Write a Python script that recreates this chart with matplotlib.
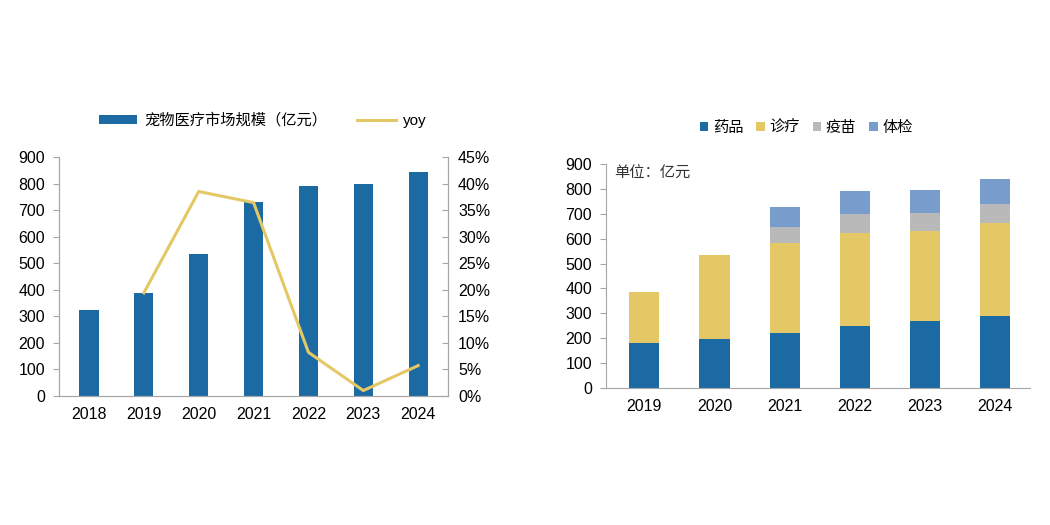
import matplotlib.pyplot as plt
from matplotlib.ticker import FuncFormatter

plt.rcParams['font.family'] = ['Liberation Sans', 'Noto Sans CJK SC', 'DejaVu Sans']

# Left chart data
years_l = ['2018', '2019', '2020', '2021', '2022', '2023', '2024']
market = [325, 388, 535, 730, 790, 798, 844]
yoy_years = ['2019', '2020', '2021', '2022', '2023', '2024']
yoy = [19.4, 38.5, 36.4, 8.2, 1.0, 5.7]

# Right chart data
years_r = ['2019', '2020', '2021', '2022', '2023', '2024']
drugs = [179, 195, 219, 250, 270, 288]
diagnosis = [208, 340, 363, 372, 360, 377]
vaccine = [0, 0, 66, 77, 73, 74]
checkup = [0, 0, 81, 92, 95, 103]

blue = '#1c6aa4'
yellow = '#e3c865'
gray = '#b9b9b9'
lightblue = '#789ccb'
spine_c = '#a6a6a6'
fs = 11.5
lfs = 11

fig = plt.figure(figsize=(10.5, 5.25), dpi=100)

# ---- left chart ----
ax1 = fig.add_axes([0.056, 0.246, 0.371, 0.455])
x_l = list(range(len(years_l)))
bars = ax1.bar(x_l, market, width=0.35, color=blue, label='宠物医疗市场规模（亿元）')
ax1.set_ylim(0, 900)
ax1.set_yticks(range(0, 901, 100))
ax1.set_xlim(-0.55, 6.55)
ax1.set_xticks(x_l)
ax1.set_xticklabels(years_l)

ax2 = ax1.twinx()
x_yoy = [years_l.index(y) for y in yoy_years]
line, = ax2.plot(x_yoy, yoy, color=yellow, lw=2.2, label='yoy')
ax2.set_ylim(0, 45)
ax2.set_yticks(range(0, 46, 5))
ax2.yaxis.set_major_formatter(FuncFormatter(lambda v, p: f'{v:.0f}%'))

for ax in (ax1, ax2):
    ax.spines['top'].set_visible(False)
    for s in ('left', 'right', 'bottom'):
        ax.spines[s].set_color(spine_c)
    ax.tick_params(axis='x', length=0, labelsize=fs, pad=8)
ax1.tick_params(axis='y', colors=spine_c, labelcolor='black', labelsize=fs,
                length=4, direction='out', pad=6)
ax2.tick_params(axis='y', colors=spine_c, labelcolor='black', labelsize=fs,
                length=4, direction='in', pad=7)

fig.legend([bars, line], ['宠物医疗市场规模（亿元）', 'yoy'], loc='center',
           bbox_to_anchor=(0.25, 0.771), ncol=2, frameon=False, fontsize=lfs,
           handlelength=2.5, handleheight=0.5, columnspacing=2.0, handletextpad=0.45)

# ---- right chart ----
ax3 = fig.add_axes([0.577, 0.2615, 0.404, 0.4255])
x_r = list(range(len(years_r)))
w = 0.43
b1 = ax3.bar(x_r, drugs, width=w, color=blue, label='药品')
bottom = drugs[:]
b2 = ax3.bar(x_r, diagnosis, width=w, bottom=bottom, color=yellow, label='诊疗')
bottom = [a + b for a, b in zip(bottom, diagnosis)]
b3 = ax3.bar(x_r, vaccine, width=w, bottom=bottom, color=gray, label='疫苗')
bottom = [a + b for a, b in zip(bottom, vaccine)]
b4 = ax3.bar(x_r, checkup, width=w, bottom=bottom, color=lightblue, label='体检')

ax3.set_ylim(0, 900)
ax3.set_yticks(range(0, 901, 100))
ax3.set_xlim(-0.55, 5.5)
ax3.set_xticks(x_r)
ax3.set_xticklabels(years_r)
ax3.spines['top'].set_visible(False)
ax3.spines['right'].set_visible(False)
ax3.spines['left'].set_color(spine_c)
ax3.spines['bottom'].set_color(spine_c)
ax3.tick_params(axis='y', colors=spine_c, labelcolor='black', labelsize=fs,
                length=4, direction='out', pad=6)
ax3.tick_params(axis='x', length=0, labelsize=fs, pad=8)
ax3.text(0.02, 0.99, '单位：亿元', transform=ax3.transAxes, ha='left', va='top',
         fontsize=lfs, color='#333333')

fig.legend([b1, b2, b3, b4], ['药品', '诊疗', '疫苗', '体检'], loc='center',
           bbox_to_anchor=(0.768, 0.756), ncol=4, frameon=False, fontsize=lfs,
           handlelength=0.55, handleheight=0.55, columnspacing=0.85, handletextpad=0.3)

fig.savefig('out.png', dpi=100)
